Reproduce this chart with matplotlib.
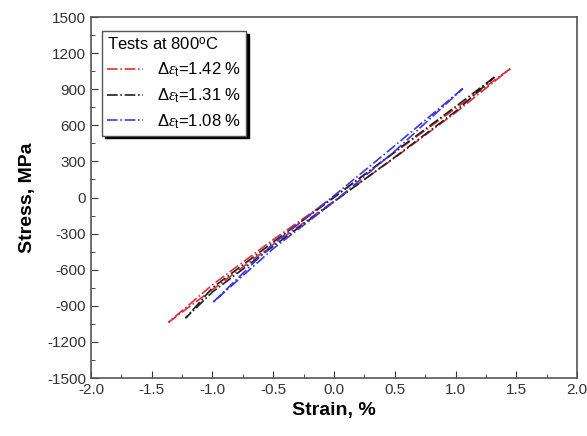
import matplotlib
matplotlib.use('Agg')
import matplotlib.pyplot as plt
from matplotlib.ticker import MultipleLocator, FormatStrFormatter

plt.rcParams['font.family'] = ['Liberation Sans', 'DejaVu Sans']
plt.rcParams['axes.unicode_minus'] = False
plt.rcParams['mathtext.fontset'] = 'custom'
plt.rcParams['mathtext.rm'] = 'Liberation Sans'
plt.rcParams['mathtext.it'] = 'Liberation Serif:italic'

# hysteresis loops (strain %, stress MPa)
# each loop: unloading branch from top to bottom, then loading branch back up
red_strain = [1.45, 1.0, 0.5, 0.0, -0.5, -1.0, -1.36, -1.0, -0.5, 0.0, 0.5, 1.0, 1.45]
red_stress = [1070, 740, 375, 5, -350, -725, -1035, -765, -390, -30, 330, 705, 1070]

black_strain = [1.32, 1.0, 0.5, 0.0, -0.5, -1.0, -1.22, -1.0, -0.5, 0.0, 0.5, 1.0, 1.32]
black_stress = [1000, 755, 380, 0, -370, -750, -1000, -785, -405, -35, 335, 715, 1000]

blue_strain = [1.06, 0.5, 0.0, -0.5, -1.0, -0.5, 0.0, 0.5, 1.06]
blue_stress = [905, 430, 15, -385, -875, -425, -35, 385, 905]

labels = [r'$\Delta\epsilon_{\rm t}$=1.42 %', r'$\Delta\epsilon_{\rm t}$=1.31 %', r'$\Delta\epsilon_{\rm t}$=1.08 %']

fig = plt.figure(figsize=(5.87, 4.36), dpi=100)
ax = fig.add_axes([0.155, 0.133, 0.828, 0.828])

ax.plot(red_strain, red_stress, color='#e0303a', ls='-.', lw=1.2, label=labels[0])
ax.plot(black_strain, black_stress, color='#202020', ls='-.', lw=1.2, label=labels[1])
ax.plot(blue_strain, blue_stress, color='#3a3ae0', ls='-.', lw=1.2, label=labels[2])

ax.set_xlim(-2.0, 2.0)
ax.set_ylim(-1500, 1500)
ax.xaxis.set_major_locator(MultipleLocator(0.5))
ax.xaxis.set_minor_locator(MultipleLocator(0.25))
ax.yaxis.set_major_locator(MultipleLocator(300))
ax.yaxis.set_minor_locator(MultipleLocator(150))
ax.xaxis.set_major_formatter(FormatStrFormatter('%.1f'))
ax.tick_params(which='both', direction='in', top=False, right=False, labelsize=11,
               color='#333333', labelcolor='#333333')
ax.tick_params(which='major', length=5)
ax.tick_params(which='minor', length=3)
for s in ax.spines.values():
    s.set_color('#555555')
    s.set_linewidth(1.2)

ax.set_xlabel('Strain, %', fontsize=14, fontweight='bold')
ax.set_ylabel('Stress, MPa', fontsize=14, fontweight='bold', labelpad=8)

leg = ax.legend(title=r'Tests at 800$^{\rm o}$C', loc='upper left', bbox_to_anchor=(0.005, 0.985),
                fontsize=12, title_fontsize=12, frameon=True, fancybox=False,
                shadow={'color': 'black', 'alpha': 1.0},
                handlelength=2.2, borderpad=0.3, labelspacing=0.45, framealpha=1.0)
leg._legend_box.align = 'left'
leg.get_frame().set_edgecolor('#555555')
leg.get_frame().set_linewidth(1.0)

fig.savefig('out.png', dpi=100)
